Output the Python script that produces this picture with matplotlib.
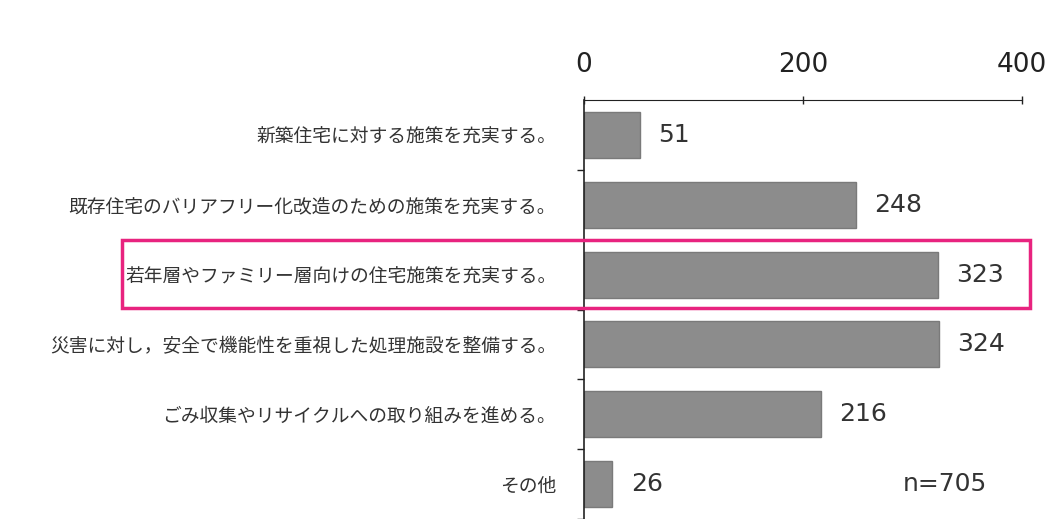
import numpy as np
import matplotlib
matplotlib.use('Agg')
import matplotlib.pyplot as plt
import matplotlib.patches as mpatches
import matplotlib.transforms as mtransforms

plt.rcParams['font.family'] = ['Noto Sans CJK JP', 'DejaVu Sans']

# データ
categories = [
    '新築住宅に対する施策を充実する。',
    '既存住宅のバリアフリー化改造のための施策を充実する。',
    '若年層やファミリー層向けの住宅施策を充実する。',
    '災害に対し，安全で機能性を重視した処理施設を整備する。',
    'ごみ収集やリサイクルへの取り組みを進める。',
    'その他',
]
counts = [51, 248, 323, 324, 216, 26]
x_ticks = [0, 200, 400]
highlight_index = 2
sample_label = 'n=705'

num_font = ['DejaVu Sans']

fig = plt.figure(figsize=(10.61, 5.19), dpi=100)
ax = fig.add_axes([584 / 1061, 0.0, (1022 - 584) / 1061, 1 - 100 / 519])

y = np.arange(len(categories))
ax.barh(y, counts, height=0.66, color='#8c8c8c', edgecolor='#7a7a7a', linewidth=1)

for yi, v in zip(y, counts):
    ax.text(v + 17, yi, str(v), va='center', ha='left', fontsize=18, color='#333333',
            family=num_font)

ax.set_xlim(0, 400)
ax.set_ylim(len(categories) - 0.5, -0.5)

# 上側の目盛り
ax.xaxis.tick_top()
ax.set_xticks(x_ticks)
ax.set_xticklabels([str(t) for t in x_ticks], fontsize=19, color='#222222', family=num_font)
ax.tick_params(axis='x', direction='inout', length=6, width=1, pad=13, colors='#222222')

# 左側の目盛り（区切り）
ax.set_yticks(y)
ax.set_yticklabels(categories, fontsize=13.5, color='#333333')
ax.set_yticks(np.arange(len(categories)) + 0.5, minor=True)
ax.tick_params(axis='y', which='major', length=0, pad=20)
ax.tick_params(axis='y', which='minor', length=5, width=1, direction='out', colors='#222222')

for s in ['right', 'bottom']:
    ax.spines[s].set_visible(False)
ax.spines['top'].set_color('#222222')
ax.spines['left'].set_color('#222222')
ax.spines['left'].set_linewidth(1.2)

# 強調枠
trans = mtransforms.blended_transform_factory(fig.transFigure, ax.transData)
rect = mpatches.Rectangle((122 / 1061, highlight_index + 0.48), (1030 - 122) / 1061, -0.98,
                          transform=trans, fill=False, edgecolor='#e8237f', linewidth=2.5,
                          clip_on=False)
fig.add_artist(rect)

ax.text(0.824, len(categories) - 1, sample_label,
        transform=mtransforms.blended_transform_factory(ax.transAxes, ax.transData),
        ha='center', va='center', fontsize=18, color='#333333', family=num_font)

fig.savefig('out.png', dpi=100)
